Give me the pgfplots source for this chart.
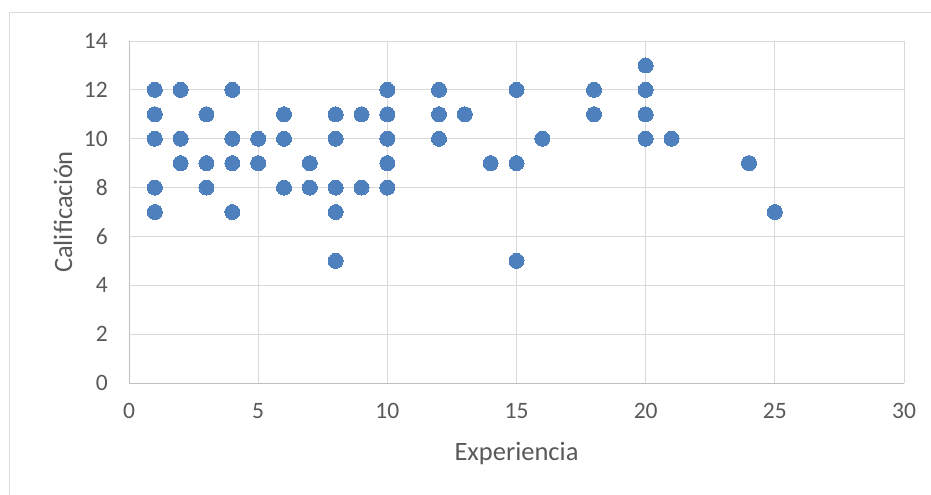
\documentclass[border=0pt]{standalone}
\usepackage{pgfplots}
\pgfplotsset{compat=1.18}
\usetikzlibrary{calc}
\usepackage{fontspec}
\setmainfont{Carlito}
\definecolor{dotblue}{HTML}{4E80BD}
\definecolor{gridgray}{HTML}{D9D9D9}
\definecolor{axisgray}{HTML}{BFBFBF}
\definecolor{txt}{HTML}{595959}

\pgfplotstableread{
x  y
1 12
1 11
1 10
1 8
1 7
2 12
2 10
2 9
3 11
3 9
3 8
4 12
4 10
4 9
4 7
5 10
5 9
6 11
6 10
6 8
7 9
7 8
8 11
8 10
8 8
8 7
8 5
9 11
9 8
10 12
10 11
10 10
10 9
10 8
12 12
12 11
12 10
13 11
14 9
15 12
15 9
15 5
16 10
18 12
18 11
20 13
20 12
20 11
20 10
21 10
24 9
25 7
}\datatable

\begin{document}
\begin{tikzpicture}
\begin{axis}[
  scale only axis, width=775bp, height=342bp,
  xmin=0, xmax=30, ymin=0, ymax=14,
  xtick={0,5,...,30}, ytick={0,2,...,14},
  axis lines*=left,
  axis line style={axisgray, line width=0.9bp},
  grid=major,
  major grid style={gridgray, line width=0.9bp},
  major tick length=0pt,
  /pgf/number format/assume math mode=true,
  tick label style={font=\fontsize{23.5bp}{25bp}\selectfont, text=txt, inner sep=0pt},
  xticklabel style={anchor=center, yshift=-28bp},
  yticklabel style={anchor=east, xshift=-21bp},
  xlabel={Experiencia},
  ylabel={Calificación},
  label style={font=\fontsize{26.5bp}{28bp}\selectfont, text=txt, inner sep=0pt},
  xlabel style={at={(axis description cs:0.5,0)}, anchor=center, yshift=-71bp},
  ylabel style={at={(axis description cs:0,0.5)}, anchor=center, yshift=66bp},
]
\addplot[only marks, color=dotblue, mark=*, mark size=7.5bp,
  mark options={fill=dotblue, draw=dotblue, line width=0pt}] table[x=x, y=y] {\datatable};
\end{axis}
\pgfresetboundingbox
\useasboundingbox ($(current axis.south west)+(-129bp,-112bp)$) rectangle ($(current axis.north east)+(27bp,41bp)$);
\draw[gridgray, line width=0.9bp]
  ($(current axis.south west)+(-120bp,-112bp)$) --
  ($(current axis.north west)+(-120bp,29bp)$) --
  ($(current axis.north east)+(27bp,29bp)$);
\end{tikzpicture}
\end{document}
